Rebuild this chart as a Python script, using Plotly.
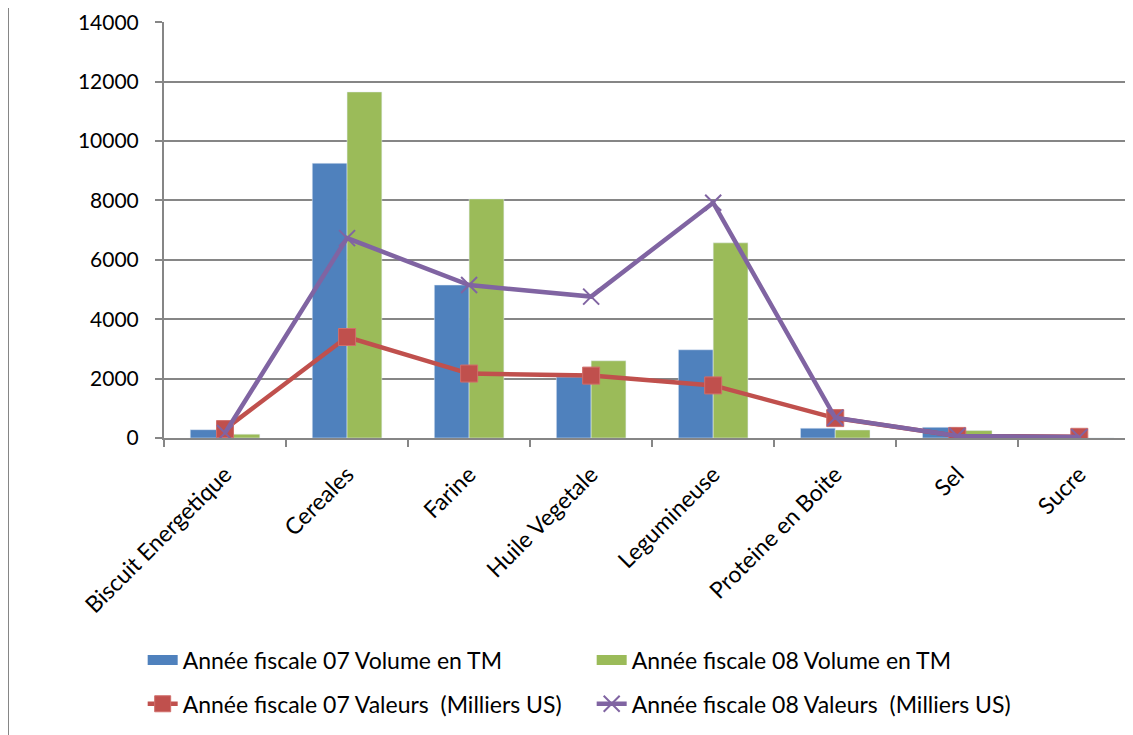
import plotly.graph_objects as go

categories = ["Biscuit Energetique", "Cereales", "Farine", "Huile Vegetale",
              "Legumineuse", "Proteine en Boite", "Sel", "Sucre"]
vol07 = [280, 9250, 5150, 2050, 2970, 330, 360, 0]
vol08 = [130, 11650, 8050, 2600, 6570, 270, 250, 0]
val07 = [300, 3400, 2170, 2100, 1770, 670, 70, 40]
val08 = [170, 6730, 5150, 4760, 7920, 680, 70, 30]
ytick_vals = [0, 2000, 4000, 6000, 8000, 10000, 12000, 14000]

names = ["Année fiscale 07 Volume en TM", "Année fiscale 08 Volume en TM",
         "Année fiscale 07 Valeurs  (Milliers US)", "Année fiscale 08 Valeurs  (Milliers US)"]

font = "Lato, Open Sans, sans-serif"
fs = 23
grid = "#868686"
blue, green, red, purple = "#4F81BD", "#9BBB59", "#C0504D", "#8064A2"

fig = go.Figure()
fig.add_trace(go.Bar(x=categories, y=vol07, name=names[0], marker_color=blue, showlegend=False))
fig.add_trace(go.Bar(x=categories, y=vol08, name=names[1], marker_color=green, showlegend=False))
fig.add_trace(go.Scatter(x=categories, y=val07, name=names[2], mode="lines+markers",
                         line=dict(color=red, width=4.5),
                         marker=dict(symbol="square", size=17, color=red,
                                     line=dict(color="#D06E6B", width=1)),
                         legend="legend2"))
fig.add_trace(go.Scatter(x=categories, y=val08, name=names[3], mode="lines+markers",
                         line=dict(color=purple, width=4.5),
                         marker=dict(symbol="x-thin", size=16, color=purple,
                                     line=dict(color=purple, width=2)),
                         legend="legend2"))
# legend-only entries for the bars (wide rectangle swatches)
fig.add_trace(go.Scatter(x=[None], y=[None], name=names[0], mode="lines",
                         line=dict(color=blue, width=15), legend="legend"))
fig.add_trace(go.Scatter(x=[None], y=[None], name=names[1], mode="lines",
                         line=dict(color=green, width=15), legend="legend"))

leg_common = dict(orientation="h", xanchor="left", yanchor="middle",
                  entrywidth=404, entrywidthmode="pixels",
                  font=dict(family=font, size=fs), traceorder="normal",
                  bgcolor="rgba(0,0,0,0)")

fig.update_layout(
    width=1125, height=727,
    margin=dict(l=156, r=0, t=14, b=297),
    paper_bgcolor="white", plot_bgcolor="white",
    font=dict(family=font, size=fs, color="black"),
    barmode="group", bargap=0.43, bargroupgap=0,
    legend=dict(x=-0.022, y=-0.534, **leg_common),
    legend2=dict(x=-0.022, y=-0.639, **leg_common),
    showlegend=True,
    xaxis=dict(type="category", range=[-0.5, 7.44], tickangle=-45,
               showline=True, linecolor=grid, linewidth=2,
               ticks="outside", tickson="boundaries", ticklen=7, tickcolor=grid, tickwidth=2,
               showgrid=False, tickfont=dict(size=fs), ticklabelstandoff=12),
    yaxis=dict(range=[0, 14005], tickmode="array", tickvals=ytick_vals,
               ticktext=[str(v) for v in ytick_vals], showgrid=True,
               gridcolor=grid, gridwidth=1.5,
               showline=True, linecolor=grid, linewidth=2,
               ticks="outside", ticklen=7, tickcolor=grid, tickwidth=2,
               tickfont=dict(size=21), zeroline=False, ticklabelstandoff=12),
    shapes=[dict(type="rect", xref="paper", yref="paper",
                 x0=-0.161, x1=1.05, y0=-0.8, y1=1.041,
                 line=dict(color="#868686", width=2), fillcolor="rgba(0,0,0,0)", layer="below")],
)

fig.write_html("out.html")
